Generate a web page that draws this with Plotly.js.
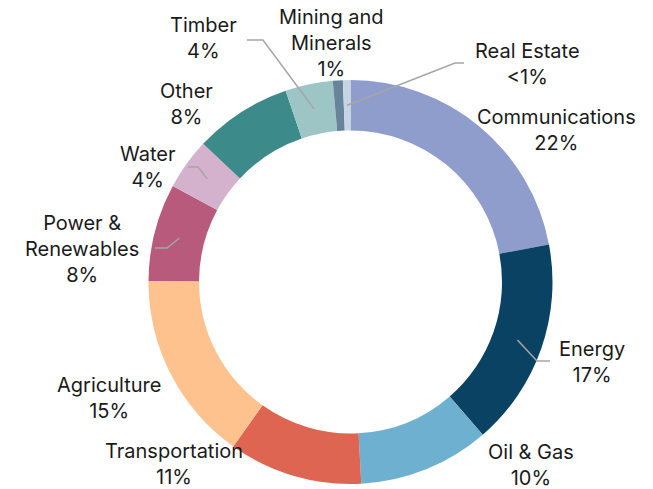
<!DOCTYPE html>
<html>
<head>
<meta charset="utf-8">
<script src="https://cdn.plot.ly/plotly-3.0.1.min.js"></script>
<style>html,body{margin:0;padding:0;background:#fff;}#chart{width:653px;height:489px;}</style>
</head>
<body>
<div id="chart"></div>
<script>
// ---- data ----
const sectors = ["Communications","Energy","Oil & Gas","Transportation","Agriculture","Power & Renewables","Water","Other","Timber","Mining and Minerals","Real Estate"];
const shares = [22.0, 16.6, 10.5, 10.7, 15.2, 7.8, 4.1, 7.8, 3.8, 0.8, 0.6];
const shareLabels = ["22%","17%","10%","11%","15%","8%","4%","8%","4%","1%","<1%"];
const sectorLabels = ["Communications","Energy","Oil & Gas","Transportation","Agriculture","Power &<br>Renewables","Water","Other","Timber","Mining and<br>Minerals","Real Estate"];
const colors = ["#8f9dcc","#0a4264","#6eb0d0","#dd6551","#fdc28e","#b85a7c","#d4b1cc","#3d8a8a","#9dc5c5","#68849a","#c6d4e3"];

// ---- layout geometry (pixels) ----
const W = 653, H = 489;
const cx = 350.5, cy = 282, R = 202, hole = 0.75;
// label centres (pixels)
const labelPos = [[556,130],[592,362],[531,465],[174,464],[109,398],[82,249],[148,167],[186,104],[203,38],[331,43],[527,64]];
// leader line elbows (pixels), null = none
const elbows = [null,[[537,361],[550,361]],null,null,null,[[167,248],[155,248]],[[198,167],[188,167]],null,[[263,40],[247,40]],null,[[455,63],[464,63]]];

const total = shares.reduce((a,b)=>a+b,0);
const px = x => x / W, py = y => 1 - y / H;

const annotations = [];
const shapes = [];
let cum = 0;
shares.forEach((v,i)=>{
  const th = 2*Math.PI*(cum + v/2)/total;
  cum += v;
  annotations.push({
    xref:'paper', yref:'paper', x:px(labelPos[i][0]), y:py(labelPos[i][1]),
    xanchor:'center', yanchor:'middle', showarrow:false, align:'center',
    text: sectorLabels[i] + '<br>' + shareLabels[i],
    font:{family:'Inter, "Open Sans", sans-serif', size:20, color:'#1a1a1a'}
  });
  if (elbows[i]) {
    const rm = R*(1+hole)/2;
    const ax = cx + rm*Math.sin(th), ay = cy - rm*Math.cos(th);
    let d = 'M ' + px(ax) + ' ' + py(ay);
    elbows[i].forEach(p => { d += ' L ' + px(p[0]) + ' ' + py(p[1]); });
    shapes.push({type:'path', xref:'paper', yref:'paper', path:d, line:{color:'#a6a6a6', width:1.5}});
  }
});

const trace = {
  type:'pie', labels:sectors, values:shares, hole:hole, sort:false, direction:'clockwise',
  rotation:0, textinfo:'none', hoverinfo:'none',
  marker:{colors:colors, line:{width:0}},
  domain:{x:[(cx-R)/W,(cx+R)/W], y:[(H-cy-R)/H,(H-cy+R)/H]}
};

Plotly.newPlot('chart',[trace],{
  width:W, height:H, margin:{l:0,r:0,t:0,b:0}, showlegend:false,
  paper_bgcolor:'#fff', plot_bgcolor:'#fff',
  annotations:annotations, shapes:shapes
},{staticPlot:true});
</script>
</body>
</html>
